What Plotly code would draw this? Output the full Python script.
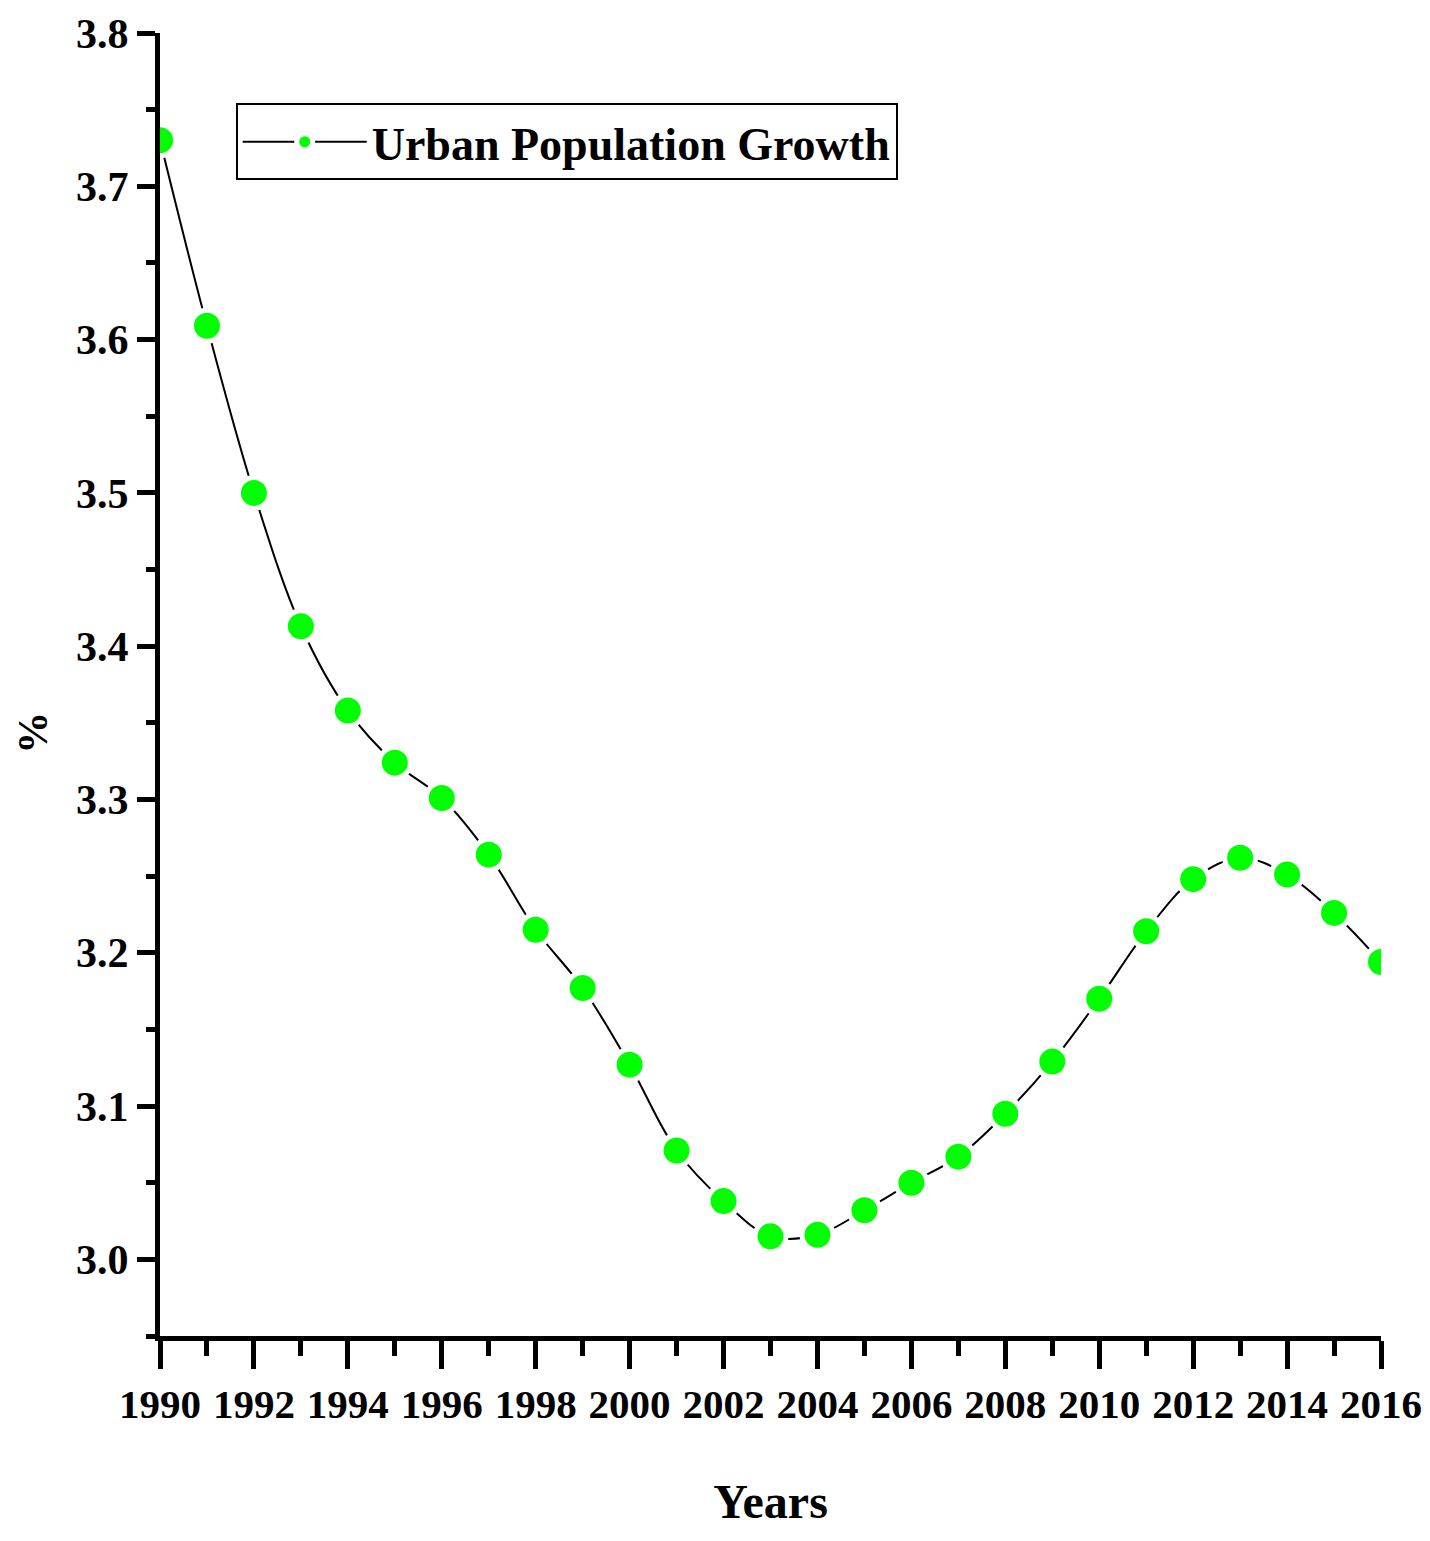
import plotly.graph_objects as go

# urban population growth, % per year
years = list(range(1990, 2017))
growth = [3.730, 3.609, 3.500, 3.413, 3.358, 3.324, 3.301, 3.264, 3.215, 3.177,
          3.127, 3.071, 3.038, 3.015, 3.016, 3.032, 3.050, 3.067, 3.095, 3.129,
          3.170, 3.214, 3.248, 3.262, 3.251, 3.226, 3.194]
series_name = "Urban Population Growth"

font_fam = "Liberation Serif"

fig = go.Figure()
fig.add_trace(go.Scatter(
    x=years, y=growth, name=series_name, mode="lines+markers",
    line=dict(color="black", width=2, shape="spline"),
    marker=dict(color="#00FF00", size=31, line=dict(color="white", width=5)),
    cliponaxis=True,
))

# the page body has an 8px margin, so the figure is made a bit smaller
fig.update_layout(
    width=1414, height=1525,
    paper_bgcolor="white", plot_bgcolor="white",
    margin=dict(l=152, r=41, t=25, b=197),
    font=dict(family=font_fam, color="black"),
    showlegend=True,
    legend=dict(
        x=0.062, y=0.946, xanchor="left", yanchor="top",
        bordercolor="black", borderwidth=2, bgcolor="white",
        font=dict(family=font_fam, size=46, weight="bold"),
        itemwidth=124,
    ),
)

# y title placed by hand (in the reference it sits below the axis middle)
fig.add_annotation(
    text="%", xref="paper", yref="paper", x=-0.104, y=0.463,
    xanchor="center", yanchor="middle",
    showarrow=False, textangle=-90,
    font=dict(family=font_fam, size=42, weight="bold"),
)

fig.update_xaxes(
    range=[1990, 2016], dtick=2, tick0=1990,
    automargin=False, ticklabeloverflow="allow",
    showline=True, linecolor="black", linewidth=5,
    ticks="outside", ticklen=28, tickwidth=5, tickcolor="black",
    ticklabelstandoff=0,
    minor=dict(dtick=1, ticks="outside", ticklen=15, tickwidth=5, tickcolor="black"),
    showgrid=False, zeroline=False,
    tickfont=dict(family=font_fam, size=41, weight="bold"),
    title=dict(text="Years", font=dict(family=font_fam, size=48, weight="bold"), standoff=60),
)
fig.update_yaxes(
    range=[2.95, 3.8], dtick=0.1, tick0=3.0, tickformat=".1f",
    automargin=False, ticklabeloverflow="allow",
    showline=True, linecolor="black", linewidth=5,
    ticks="outside", ticklen=18, tickwidth=5, tickcolor="black",
    ticklabelstandoff=0,
    minor=dict(dtick=0.05, ticks="outside", ticklen=9, tickwidth=5, tickcolor="black"),
    showgrid=False, zeroline=False,
    tickfont=dict(family=font_fam, size=42, weight="bold"),
)

fig.write_html("out.html")
